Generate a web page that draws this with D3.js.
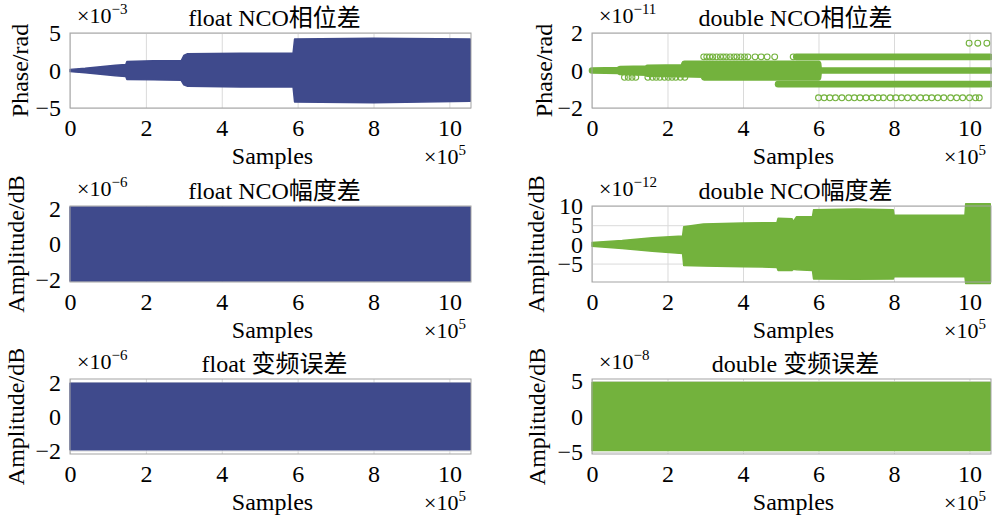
<!DOCTYPE html>
<html>
<head>
<meta charset="utf-8">
<script src="https://cdn.jsdelivr.net/npm/d3@7"></script>
<style>
body { margin: 0; background: #fff; }
text { font-family: "Liberation Serif", "Times New Roman", "Noto Sans CJK SC", serif; fill: #000; }
</style>
</head>
<body>
<svg width="992" height="520"></svg>
<script>
// sample axis (x 1e5), shared by every panel
var xTicks = [0, 2, 4, 6, 8, 10];
var xMax = 10.57;

// float NCO phase error envelope: [samples x1e5, upper, lower]  (x1e-3 rad)
var floatPhase = [
    [0, 0.15, -0.15], [0.4, 0.3, -0.3], [0.8, 0.5, -0.5], [1.2, 0.7, -0.7],
    [1.47, 0.8, -0.8], [1.5, 1.2, -1.2], [2.2, 1.3, -1.25], [2.93, 1.3, -1.3],
    [3.0, 2.0, -1.9], [3.1, 2.25, -2.1], [4.5, 2.3, -2.2], [5.88, 2.3, -2.2],
    [5.92, 4.2, -4.2], [8.0, 4.3, -4.3], [10.55, 4.2, -4.1]
];
// float NCO amplitude error envelope (x1e-6 dB)
var floatAmp = [[0, 2.1, -2.1], [10.55, 2.1, -2.1]];
// float mixing error envelope (x1e-6 dB)
var floatMix = [[0, 1.95, -1.95], [10.55, 1.95, -1.95]];
// double NCO amplitude error envelope (x1e-12 dB)
var doubleAmp = [
    [0, 0.5, -0.5], [0.8, 1.0, -1.1], [1.6, 1.7, -1.8], [2.4, 2.2, -2.4],
    [2.43, 4.6, -5.5], [2.95, 5.3, -5.6], [4.0, 5.6, -5.8], [4.9, 5.7, -6.0],
    [4.93, 6.8, -6.8], [5.3, 6.7, -6.8], [5.33, 5.9, -6.5], [5.42, 7.2, -6.6],
    [5.84, 7.2, -6.8], [5.87, 9.0, -9.0], [7.0, 9.2, -9.1], [7.98, 9.0, -9.0],
    [8.0, 7.6, -8.4], [9.88, 7.6, -8.4], [9.9, 10.6, -10.2], [10.55, 10.6, -10.2]
];
// double mixing error envelope (x1e-8 dB)
var doubleMix = [[0, 4.8, -4.8], [10.55, 4.8, -4.8]];

// double NCO phase error (x1e-11 rad), quantised levels
// dense core of overlapping markers: [x, top level, bottom level]
var doublePhaseCore = [
    [0, 0, 0], [0.7, 0.03, -0.03], [0.75, 0.08, -0.08], [1.45, 0.1, -0.12],
    [1.47, 0.14, -0.17], [2.42, 0.17, -0.2], [2.45, 0.364, -0.2], [2.95, 0.364, -0.22],
    [2.97, 0.364, -0.364], [5.99, 0.364, -0.364], [6.01, 0, 0], [10.55, 0, 0]
];
// long solid runs of markers: [level, from, to]
var doublePhaseRuns = [[0.728, 5.41, 10.55], [-0.728, 4.93, 10.55]];
// isolated markers
var ringsUp1 = [2.96, 3.04, 3.12, 3.2, 3.3, 3.4, 3.48, 3.56, 3.66, 3.76, 3.84, 3.94,
    4.04, 4.13, 4.32, 4.48, 4.64, 4.84, 5.33];
var ringsDown1 = [0.86, 0.96, 1.06, 1.16, 1.48, 1.6, 1.7, 1.8, 1.92, 2.02, 2.12,
    2.22, 2.34, 2.46];
var ringsDown4 = [6.0, 6.15, 6.3, 6.45, 6.62, 6.8, 6.95, 7.1, 7.26, 7.42, 7.58, 7.72,
    7.9, 8.05, 8.2, 8.36, 8.52, 8.7, 8.85, 9.0, 9.16, 9.32, 9.5, 9.66, 9.82, 10.0,
    10.16, 10.26];
var ringsUp4 = [9.99, 10.22, 10.46];

var blue = "#3f4a8c", green = "#73b23d";

var svg = d3.select("svg");

var cols = [[70, 471], [592, 991]];
var rows = [[33, 108], [206, 282], [379, 454]];

var panels = [
    { c: 0, r: 0, title: "float NCO相位差", ylab: "Phase/rad", lx: 42, exp: "\u22123", ylim: [-5, 5], yt: [-5, 0, 5], color: blue, env: floatPhase },
    { c: 1, r: 0, title: "double NCO相位差", ylab: "Phase/rad", lx: 40, exp: "\u221211", ylim: [-2, 2], yt: [-2, 0, 2], color: green, markers: true },
    { c: 0, r: 1, title: "float NCO幅度差", ylab: "Amplitude/dB", lx: 46, exp: "\u22126", ylim: [-2.15, 2.15], yt: [-2, 0, 2], color: blue, env: floatAmp },
    { c: 1, r: 1, title: "double NCO幅度差", ylab: "Amplitude/dB", lx: 48, exp: "\u221212", ylim: [-9.8, 10], yt: [-5, 0, 5, 10], color: green, env: doubleAmp },
    { c: 0, r: 2, title: "float 变频误差", ylab: "Amplitude/dB", lx: 46, exp: "\u22126", ylim: [-2.2, 2.2], yt: [-2, 0, 2], color: blue, env: floatMix },
    { c: 1, r: 2, title: "double 变频误差", ylab: "Amplitude/dB", lx: 47, exp: "\u22128", ylim: [-5.3, 5.3], yt: [-5, 0, 5], color: green, env: doubleMix }
];

panels.forEach(function(p) {
    var x0 = cols[p.c][0], x1 = cols[p.c][1];
    var y0 = rows[p.r][0], y1 = rows[p.r][1];
    var x = d3.scaleLinear().domain([0, xMax]).range([x0, x1]);
    var y = d3.scaleLinear().domain(p.ylim).range([y1, y0]);
    var g = svg.append("g");

    // grid
    g.append("g")
        .attr("transform", "translate(0," + y1 + ")")
        .call(d3.axisBottom(x).tickValues(xTicks).tickSize(-(y1 - y0)).tickFormat(""))
        .call(function(s) { s.select(".domain").remove(); })
        .selectAll("line").attr("stroke", "#dadada");
    g.append("g")
        .attr("transform", "translate(" + x0 + ",0)")
        .call(d3.axisLeft(y).tickValues(p.yt).tickSize(-(x1 - x0)).tickFormat(""))
        .call(function(s) { s.select(".domain").remove(); })
        .selectAll("line").attr("stroke", "#dadada");

    // data
    if (p.env) {
        g.append("path")
            .datum(p.env)
            .attr("fill", p.color)
            .attr("stroke", p.color)
            .attr("stroke-width", 1.5)
            .attr("stroke-linejoin", "round")
            .attr("d", d3.area()
                .x(function(d) { return x(d[0]); })
                .y0(function(d) { return y(d[2]); })
                .y1(function(d) { return y(d[1]); }));
    }
    if (p.markers) {
        g.append("path")
            .datum(doublePhaseCore)
            .attr("fill", p.color)
            .attr("stroke", p.color)
            .attr("stroke-width", 6.6)
            .attr("stroke-linejoin", "round")
            .attr("d", d3.area()
                .x(function(d) { return x(d[0]); })
                .y0(function(d) { return y(d[2]); })
                .y1(function(d) { return y(d[1]); }));
        g.selectAll("line.run")
            .data(doublePhaseRuns)
            .enter()
            .append("line")
            .attr("x1", function(d) { return x(d[1]); })
            .attr("x2", function(d) { return x(d[2]); })
            .attr("y1", function(d) { return y(d[0]); })
            .attr("y2", function(d) { return y(d[0]); })
            .attr("stroke", p.color)
            .attr("stroke-width", 6.6)
            .attr("stroke-linecap", "round");
        var rings = [];
        ringsUp1.forEach(function(v) { rings.push([v, 0.728]); });
        ringsDown1.forEach(function(v) { rings.push([v, -0.364]); });
        ringsDown4.forEach(function(v) { rings.push([v, -1.455]); });
        ringsUp4.forEach(function(v) { rings.push([v, 1.455]); });
        g.selectAll("circle")
            .data(rings)
            .enter()
            .append("circle")
            .attr("cx", function(d) { return x(d[0]); })
            .attr("cy", function(d) { return y(d[1]); })
            .attr("r", 2.9)
            .attr("fill", "none")
            .attr("stroke", p.color)
            .attr("stroke-width", 1.1);
    }

    // box
    g.append("rect")
        .attr("x", x0).attr("y", y0)
        .attr("width", x1 - x0).attr("height", y1 - y0)
        .attr("fill", "none")
        .attr("stroke", "#a3a3a3")
        .attr("stroke-width", 1);

    // tick labels
    var xa = g.append("g")
        .attr("transform", "translate(0," + y1 + ")")
        .call(d3.axisBottom(x).tickValues(xTicks).tickSize(0).tickPadding(11).tickFormat(d3.format("d")));
    xa.select(".domain").remove();
    xa.selectAll("text").style("font-size", "24px").attr("fill", "#000");
    var ya = g.append("g")
        .attr("transform", "translate(" + x0 + ",0)")
        .call(d3.axisLeft(y).tickValues(p.yt).tickSize(0).tickPadding(9).tickFormat(d3.format("d")));
    ya.select(".domain").remove();
    ya.selectAll("text").style("font-size", "24px").attr("fill", "#000");

    // titles and labels
    g.append("text")
        .attr("x", (x0 + x1) / 2 + 4)
        .attr("y", y0 - 7)
        .attr("text-anchor", "middle")
        .style("font-size", "24px")
        .text(p.title);
    g.append("text")
        .attr("transform", "translate(" + (x0 - p.lx) + "," + ((y0 + y1) / 2) + ") rotate(-90)")
        .attr("text-anchor", "middle")
        .style("font-size", "24px")
        .text(p.ylab);
    g.append("text")
        .attr("x", (x0 + x1) / 2 + 2)
        .attr("y", y1 + 56)
        .attr("text-anchor", "middle")
        .style("font-size", "24px")
        .text("Samples");

    var ey = g.append("text")
        .attr("x", x0 + 7)
        .attr("y", y0 - 10)
        .style("font-size", "22px");
    ey.append("tspan").text("\u00d710");
    ey.append("tspan").attr("dy", -9).style("font-size", "15px").text(p.exp);

    var ex = g.append("text")
        .attr("x", x1 - 5)
        .attr("y", y1 + 56)
        .attr("text-anchor", "end")
        .style("font-size", "22px");
    ex.append("tspan").text("\u00d710");
    ex.append("tspan").attr("dy", -9).style("font-size", "15px").text("5");
});
</script>
</body>
</html>
